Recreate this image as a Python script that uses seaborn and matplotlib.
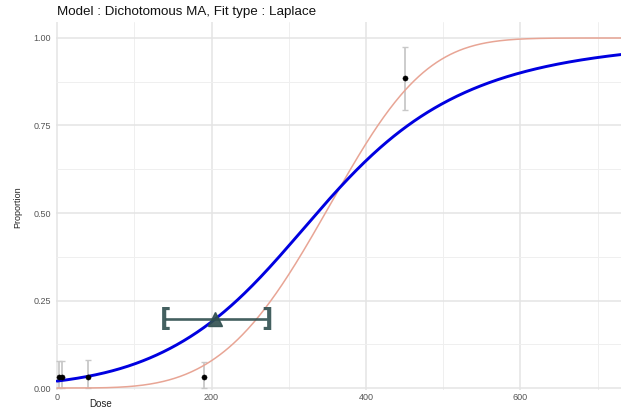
import numpy as np
import matplotlib
matplotlib.use("Agg")
import matplotlib.pyplot as plt
from matplotlib.ticker import MultipleLocator
import seaborn as sns
import pandas as pd

dose_obs = [2, 6, 40, 190, 451]
prop_obs = [0.031, 0.031, 0.032, 0.031, 0.886]
lower_obs = [0.0, 0.0, 0.0, 0.0, 0.794]
upper_obs = [0.076, 0.076, 0.081, 0.074, 0.975]

# ---- model average (blue) : weighted log-logistic + logistic ----
ma_weight_ll = 0.8195
ll_ed50 = 371.36
ll_slope = 4.132
logi_a = -2.0982
logi_b = 0.015208

# ---- individual model (red) : Weibull ----
weib_scale = 381.81
weib_shape = 3.882

# ---- benchmark dose ----
bmd = 204
bmdl = 140
bmdu = 272
bmr_y = 0.197

title = "Model : Dichotomous MA, Fit type : Laplace"
x_ticks = [0, 200, 400, 600]
y_ticks = [0.00, 0.25, 0.50, 0.75, 1.00]
y_ticklabels = ["0.00", "0.25", "0.50", "0.75", "1.00"]

dose_grid = np.linspace(0, 730, 500)
dpos = np.maximum(dose_grid, 1e-9)
ll_part = 1.0 / (1.0 + (dpos / ll_ed50) ** (-ll_slope))
logi_part = 1.0 / (1.0 + np.exp(-(logi_a + logi_b * dose_grid)))
ma_curve = ma_weight_ll * ll_part + (1 - ma_weight_ll) * logi_part
weib_curve = 1.0 - np.exp(-(dose_grid / weib_scale) ** weib_shape)

curves = pd.DataFrame({"Dose": dose_grid, "MA": ma_curve, "Weibull": weib_curve})
obs = pd.DataFrame({"Dose": dose_obs, "Proportion": prop_obs,
                    "lo": lower_obs, "hi": upper_obs})

sns.set_theme(style="white")
plt.rcParams["font.family"] = ["Liberation Sans", "DejaVu Sans"]

W, H = 621, 413
fig = plt.figure(figsize=(W / 100, H / 100), dpi=100)
ax = fig.add_axes([56 / W, (H - 390) / H, (W - 56) / W, (390 - 22) / H])

ax.set_xlim(-1.3, 730.1)
ax.set_ylim(-0.0057, 1.0457)

# grid
ax.xaxis.set_major_locator(MultipleLocator(200))
ax.xaxis.set_minor_locator(MultipleLocator(100))
ax.yaxis.set_major_locator(MultipleLocator(0.25))
ax.yaxis.set_minor_locator(MultipleLocator(0.125))
ax.grid(which="major", color="#E4E4E4", linewidth=1.1)
ax.grid(which="minor", color="#EFEFEF", linewidth=0.7)
ax.set_axisbelow(True)
for sp in ax.spines.values():
    sp.set_visible(False)

# error bars
ax.errorbar(obs["Dose"], obs["Proportion"],
            yerr=[obs["Proportion"] - obs["lo"], obs["hi"] - obs["Proportion"]],
            fmt="none", ecolor="#C8C8C8", elinewidth=1.3, capsize=2.2, capthick=1.0,
            zorder=2)

# individual model line
sns.lineplot(data=curves, x="Dose", y="Weibull", ax=ax, color="#E8A595",
             linewidth=1.1, zorder=3)
# model average line
sns.lineplot(data=curves, x="Dose", y="MA", ax=ax, color="#0000E0",
             linewidth=2.1, zorder=4)

# observed points
sns.scatterplot(data=obs, x="Dose", y="Proportion", ax=ax, color="black",
                s=14, edgecolor="black", linewidth=0.3, zorder=5)

# BMD interval
bmd_col = "#2F4F4F"
ax.plot([bmdl, bmdu], [bmr_y, bmr_y], color=bmd_col, alpha=0.9, linewidth=1.9,
        zorder=6, solid_capstyle="butt")
ax.text(bmdl, bmr_y, "[", color=bmd_col, alpha=0.9, fontsize=18, fontweight="bold",
        ha="center", va="center", zorder=6, family="DejaVu Sans")
ax.text(bmdu, bmr_y, "]", color=bmd_col, alpha=0.9, fontsize=18, fontweight="bold",
        ha="center", va="center", zorder=6, family="DejaVu Sans")
ax.plot([bmd], [bmr_y], marker="^", markersize=10.5, color=bmd_col, alpha=0.9,
        linestyle="none", zorder=7)

# ticks
ax.set_xticks(x_ticks)
ax.set_xticklabels([str(t) for t in x_ticks])
ax.set_yticks(y_ticks)
ax.set_yticklabels(y_ticklabels)
ax.tick_params(axis="both", which="both", length=0, labelsize=6.5, labelcolor="#555555")
ax.tick_params(axis="x", pad=2.5)
ax.tick_params(axis="y", pad=3.5)

ax.set_xlabel("")
ax.set_ylabel("")
fig.text(101 / W, (H - 404) / H, "Dose", fontsize=7, ha="center", va="center",
         color="#222222")
fig.text(18 / W, (H - 207) / H, "Proportion", fontsize=6.5, ha="center", va="center",
         rotation=90, color="#222222")
fig.text(57 / W, (H - 12) / H, title, fontsize=9.6, ha="left", va="center",
         color="#111111")

fig.savefig("out.png", dpi=100)
